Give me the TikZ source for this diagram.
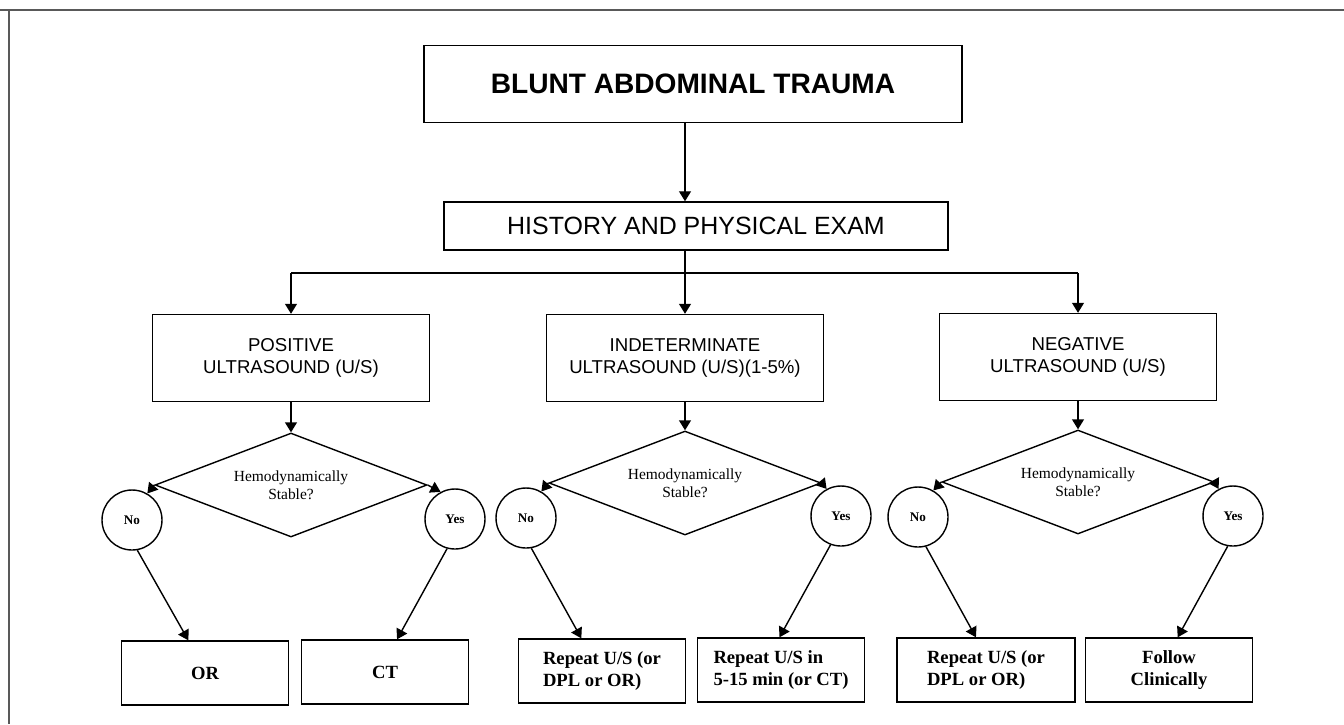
\documentclass[tikz,border=0pt]{standalone}
\usepackage{fontspec}
\setmainfont{Liberation Serif}
\newfontfamily\arialfont{Liberation Sans}
\usetikzlibrary{shapes.geometric, arrows.meta}

\begin{document}
\begin{tikzpicture}[x=0.02cm, y=-0.02cm, line width=0.8pt,
    arrow/.style = {-{Triangle[width=6.8pt, length=5.7pt]}},
    frame/.style = {draw=black!65, line width=1.2pt},
    title/.style = {draw, minimum width=10.76cm, minimum height=1.54cm, font=\arialfont\bfseries\fontsize{16}{19}\selectfont},
    exam/.style = {draw, minimum width=10.08cm, minimum height=0.96cm, font=\arialfont\fontsize{14.2}{17}\selectfont},
    usbox/.style = {draw, minimum width=5.54cm, minimum height=1.74cm, align=center, font=\arialfont\fontsize{10.6}{12.5}\selectfont},
    decision/.style = {draw, diamond, aspect=2.6, minimum width=5.44cm, minimum height=2.08cm, inner sep=0pt, align=center, font=\fontsize{8.8}{10}\selectfont},
    answer/.style = {draw, circle, minimum size=1.2cm, inner sep=0pt, font=\bfseries\fontsize{7.5}{8}\selectfont},
    result/.style = {draw, minimum width=3.34cm, minimum height=1.28cm, align=left, font=\bfseries\fontsize{10.6}{12.2}\selectfont}]
\useasboundingbox (0,0) rectangle (1344,724);
\draw[frame] (0,10) -- (1344,10);
\draw[frame] (9,10) -- (9,724);

\node[title] (trauma) at (693,84) {BLUNT ABDOMINAL TRAUMA};
\node[exam] (history) at (696,226) {HISTORY AND PHYSICAL EXAM};

\node[usbox] (pos) at (291,358) {POSITIVE\\ULTRASOUND (U/S)};
\node[usbox] (indet) at (685,358) {INDETERMINATE\\ULTRASOUND (U/S)(1-5\%)};
\node[usbox] (neg) at (1078,357) {NEGATIVE\\ULTRASOUND (U/S)};

\node[decision] (hs1) at (291,485) {Hemodynamically\\Stable?};
\node[decision] (hs2) at (685,483) {Hemodynamically\\Stable?};
\node[decision] (hs3) at (1078,482) {Hemodynamically\\Stable?};

\node[answer] (no1) at (132,520) {No};
\node[answer] (yes1) at (455,519) {Yes};
\node[answer] (no2) at (526,518) {No};
\node[answer] (yes2) at (841,516) {Yes};
\node[answer] (no3) at (918,517) {No};
\node[answer] (yes3) at (1233,516) {Yes};

\node[result] (opr) at (205,673) {OR};
\node[result] (ct) at (385,672) {CT};
\node[result] (rep1) at (602,671) {Repeat U/S (or\\DPL or OR)};
\node[result] (rep2) at (781,670) {Repeat U/S in\\5-15 min (or CT)};
\node[result, minimum width=3.56cm] (rep3) at (986,670) {Repeat U/S (or\\DPL or OR)};
\node[result, align=center] (follow) at (1169,670) {Follow\\Clinically};

\coordinate (fork) at (685,273);
\draw[arrow] (trauma.south -| fork) -- (history.north -| fork);
\draw (history.south -| fork) -- (fork);
\draw (pos |- fork) -- (neg |- fork);
\foreach \b/\n in {pos/1, indet/2, neg/3} {
  \draw[arrow] (\b |- fork) -- (\b.north);
  \draw[arrow] (\b.south) -- (hs\n.north);
  \draw[arrow] (hs\n.west) -- (no\n.60);
  \draw[arrow] (hs\n.east) -- (yes\n.118);
}
\foreach \c/\r/\a/\d in {no1/opr/-80/51, yes1/ct/-105/-50, no2/rep1/-80/50, yes2/rep2/-110/-51, no3/rep3/-75/50, yes3/follow/-100/-50} {
  \path (\c.\a) ++(\d,0) coordinate (tip);
  \draw[arrow] (\c.\a) -- (tip |- \r.north);
}
\end{tikzpicture}
\end{document}
